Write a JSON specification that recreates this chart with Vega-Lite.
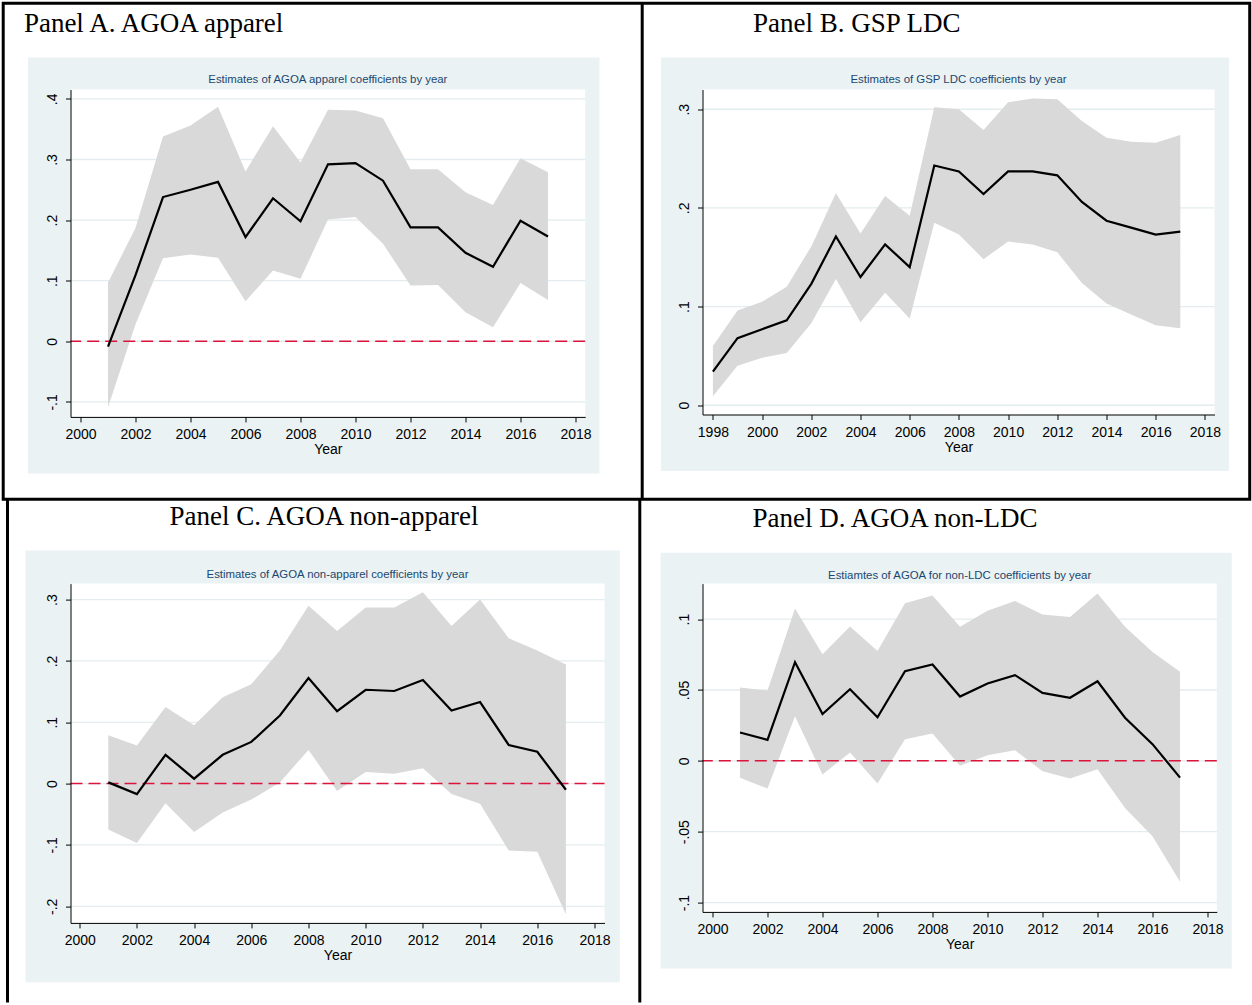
{
  "$schema": "https://vega.github.io/schema/vega-lite/v6.json",
  "background": "white",
  "padding": {"left": 1.5, "top": 1.5, "right": 0, "bottom": 0},
  "autosize": {"type": "pad"},
  "columns": 2,
  "align": "each",
  "bounds": "flush",
  "spacing": {"column": 98, "row": 166.1},
  "config": {
    "view": {"stroke": null},
    "axis": {"labelFont": "Liberation Sans", "labelFontSize": 14, "labelColor": "black", "titleFont": "Liberation Sans", "titleFontSize": 14, "titleFontWeight": "normal", "titleColor": "black", "domainColor": "black", "tickColor": "black", "tickSize": 5, "grid": false, "labelFlush": false, "labelOverlap": false, "labelPadding": 6},
    "axisX": {"titlePadding": 1},
    "axisY": {"labelAngle": -90}
  },
  "datasets": {
    "A": [
      {"year": 2001, "est": -0.009, "lo": -0.109, "hi": 0.097},
      {"year": 2002, "est": 0.109, "lo": 0.028, "hi": 0.187},
      {"year": 2003, "est": 0.238, "lo": 0.137, "hi": 0.338},
      {"year": 2004, "est": 0.250, "lo": 0.143, "hi": 0.356},
      {"year": 2005, "est": 0.263, "lo": 0.138, "hi": 0.387},
      {"year": 2006, "est": 0.172, "lo": 0.066, "hi": 0.280},
      {"year": 2007, "est": 0.236, "lo": 0.117, "hi": 0.355},
      {"year": 2008, "est": 0.198, "lo": 0.103, "hi": 0.295},
      {"year": 2009, "est": 0.292, "lo": 0.201, "hi": 0.382},
      {"year": 2010, "est": 0.294, "lo": 0.205, "hi": 0.381},
      {"year": 2011, "est": 0.265, "lo": 0.161, "hi": 0.368},
      {"year": 2012, "est": 0.188, "lo": 0.092, "hi": 0.284},
      {"year": 2013, "est": 0.188, "lo": 0.093, "hi": 0.284},
      {"year": 2014, "est": 0.146, "lo": 0.048, "hi": 0.246},
      {"year": 2015, "est": 0.123, "lo": 0.023, "hi": 0.225},
      {"year": 2016, "est": 0.199, "lo": 0.096, "hi": 0.302},
      {"year": 2017, "est": 0.173, "lo": 0.068, "hi": 0.279}
    ],
    "B": [
      {"year": 1998, "est": 0.034, "lo": 0.009, "hi": 0.060},
      {"year": 1999, "est": 0.068, "lo": 0.040, "hi": 0.096},
      {"year": 2000, "est": 0.077, "lo": 0.048, "hi": 0.105},
      {"year": 2001, "est": 0.086, "lo": 0.053, "hi": 0.120},
      {"year": 2002, "est": 0.123, "lo": 0.083, "hi": 0.161},
      {"year": 2003, "est": 0.171, "lo": 0.128, "hi": 0.215},
      {"year": 2004, "est": 0.130, "lo": 0.084, "hi": 0.174},
      {"year": 2005, "est": 0.163, "lo": 0.114, "hi": 0.212},
      {"year": 2006, "est": 0.140, "lo": 0.088, "hi": 0.192},
      {"year": 2007, "est": 0.243, "lo": 0.185, "hi": 0.302},
      {"year": 2008, "est": 0.237, "lo": 0.173, "hi": 0.300},
      {"year": 2009, "est": 0.214, "lo": 0.148, "hi": 0.279},
      {"year": 2010, "est": 0.237, "lo": 0.166, "hi": 0.307},
      {"year": 2011, "est": 0.237, "lo": 0.163, "hi": 0.311},
      {"year": 2012, "est": 0.233, "lo": 0.155, "hi": 0.310},
      {"year": 2013, "est": 0.206, "lo": 0.124, "hi": 0.288},
      {"year": 2014, "est": 0.187, "lo": 0.103, "hi": 0.271},
      {"year": 2015, "est": 0.180, "lo": 0.092, "hi": 0.267},
      {"year": 2016, "est": 0.173, "lo": 0.081, "hi": 0.266},
      {"year": 2017, "est": 0.176, "lo": 0.078, "hi": 0.274}
    ],
    "C": [
      {"year": 2001, "est": 0.002, "lo": -0.075, "hi": 0.079},
      {"year": 2002, "est": -0.017, "lo": -0.097, "hi": 0.062},
      {"year": 2003, "est": 0.047, "lo": -0.032, "hi": 0.125},
      {"year": 2004, "est": 0.008, "lo": -0.079, "hi": 0.095},
      {"year": 2005, "est": 0.047, "lo": -0.047, "hi": 0.141},
      {"year": 2006, "est": 0.068, "lo": -0.026, "hi": 0.162},
      {"year": 2007, "est": 0.111, "lo": 0.002, "hi": 0.217},
      {"year": 2008, "est": 0.172, "lo": 0.055, "hi": 0.290},
      {"year": 2009, "est": 0.118, "lo": -0.012, "hi": 0.249},
      {"year": 2010, "est": 0.153, "lo": 0.019, "hi": 0.287},
      {"year": 2011, "est": 0.151, "lo": 0.016, "hi": 0.287},
      {"year": 2012, "est": 0.169, "lo": 0.025, "hi": 0.312},
      {"year": 2013, "est": 0.119, "lo": -0.017, "hi": 0.257},
      {"year": 2014, "est": 0.133, "lo": -0.033, "hi": 0.300},
      {"year": 2015, "est": 0.063, "lo": -0.109, "hi": 0.237},
      {"year": 2016, "est": 0.052, "lo": -0.111, "hi": 0.217},
      {"year": 2017, "est": -0.010, "lo": -0.213, "hi": 0.194}
    ],
    "D": [
      {"year": 2001, "est": 0.0200, "lo": -0.0120, "hi": 0.0518},
      {"year": 2002, "est": 0.0148, "lo": -0.0195, "hi": 0.0496},
      {"year": 2003, "est": 0.0696, "lo": 0.0315, "hi": 0.1075},
      {"year": 2004, "est": 0.0330, "lo": -0.0096, "hi": 0.0753},
      {"year": 2005, "est": 0.0506, "lo": 0.0059, "hi": 0.0948},
      {"year": 2006, "est": 0.0308, "lo": -0.0160, "hi": 0.0776},
      {"year": 2007, "est": 0.0633, "lo": 0.0153, "hi": 0.1113},
      {"year": 2008, "est": 0.0680, "lo": 0.0193, "hi": 0.1167},
      {"year": 2009, "est": 0.0454, "lo": -0.0035, "hi": 0.0946},
      {"year": 2010, "est": 0.0546, "lo": 0.0040, "hi": 0.1059},
      {"year": 2011, "est": 0.0605, "lo": 0.0075, "hi": 0.1129},
      {"year": 2012, "est": 0.0480, "lo": -0.0073, "hi": 0.1033},
      {"year": 2013, "est": 0.0445, "lo": -0.0125, "hi": 0.1016},
      {"year": 2014, "est": 0.0562, "lo": -0.0059, "hi": 0.1181},
      {"year": 2015, "est": 0.0304, "lo": -0.0332, "hi": 0.0946},
      {"year": 2016, "est": 0.0118, "lo": -0.0532, "hi": 0.0769},
      {"year": 2017, "est": -0.0118, "lo": -0.0854, "hi": 0.0628}
    ],
    "gridA": [{"v": -0.1}, {"v": 0}, {"v": 0.1}, {"v": 0.2}, {"v": 0.3}, {"v": 0.4}],
    "gridB": [{"v": 0}, {"v": 0.1}, {"v": 0.2}, {"v": 0.3}],
    "gridC": [{"v": -0.2}, {"v": -0.1}, {"v": 0}, {"v": 0.1}, {"v": 0.2}, {"v": 0.3}],
    "gridD": [{"v": -0.1}, {"v": -0.05}, {"v": 0}, {"v": 0.05}, {"v": 0.1}]
  },
  "concat": [
    {
      "width": 514.7, "height": 327.4,
      "layer": [
        {"data": {"values": [{}]}, "mark": {"type": "rect", "clip": false, "color": "#eaf2f3"},
         "encoding": {"x": {"datum": 1998.087, "type": "quantitative"}, "x2": {"datum": 2018.873}, "y": {"datum": -0.2182, "type": "quantitative"}, "y2": {"datum": 0.4683}}},
        {"data": {"values": [{}]}, "mark": {"type": "rect", "clip": false, "color": "white"},
         "encoding": {"x": {"datum": 1999.636, "type": "quantitative"}, "x2": {"datum": 2018.353}, "y": {"datum": -0.1248, "type": "quantitative"}, "y2": {"datum": 0.4155}}},
        {"data": {"name": "gridA"}, "mark": {"type": "rule", "color": "#e3ecee", "strokeWidth": 1.3},
         "encoding": {"y": {"field": "v", "type": "quantitative"}}},
        {"data": {"name": "A"}, "mark": {"type": "area", "color": "#d9d9d9"},
         "encoding": {
           "x": {"field": "year", "type": "quantitative", "scale": {"domain": [1999.636, 2018.353], "nice": false, "zero": false},
                 "axis": {"zindex": 1, "title": "Year", "values": [2000, 2002, 2004, 2006, 2008, 2010, 2012, 2014, 2016, 2018], "format": "d"}},
           "y": {"field": "lo", "type": "quantitative", "scale": {"domain": [-0.1248, 0.4155], "nice": false, "zero": false},
                 "axis": {"zindex": 1, "title": null, "values": [-0.1, 0, 0.1, 0.2, 0.3, 0.4], "labelExpr": "replace(toString(datum.value), '0.', '.')"}},
           "y2": {"field": "hi"}}},
        {"data": {"values": [{}]}, "mark": {"type": "rule", "color": "#dc143c", "strokeWidth": 1.5, "strokeDash": [12, 6]},
         "encoding": {"y": {"datum": 0, "type": "quantitative"}}},
        {"data": {"name": "A"}, "mark": {"type": "line", "color": "black", "strokeWidth": 2.2},
         "encoding": {"x": {"field": "year", "type": "quantitative"}, "y": {"field": "est", "type": "quantitative"}}},
        {"data": {"values": [{}]}, "mark": {"type": "text", "clip": false, "font": "Liberation Sans", "fontSize": 11.4, "color": "#1a476f", "align": "center", "baseline": "middle", "text": "Estimates of AGOA apparel coefficients by year"},
         "encoding": {"x": {"datum": 2008.995, "type": "quantitative"}, "y": {"datum": 0.4304, "type": "quantitative"}}},
        {"data": {"values": [{}]}, "mark": {"type": "text", "clip": false, "font": "Liberation Serif", "fontSize": 27, "color": "black", "align": "left", "baseline": "alphabetic", "text": "Panel A. AGOA apparel"},
         "encoding": {"x": {"datum": 1997.941, "type": "quantitative"}, "y": {"datum": 0.5106, "type": "quantitative"}}},
        {"data": {"values": [{}]}, "mark": {"type": "rect", "clip": false, "fill": null, "fillOpacity": 0, "stroke": "black", "strokeWidth": 3},
         "encoding": {"x": {"datum": 1997.189, "type": "quantitative"}, "x2": {"datum": 2042.518}, "y": {"datum": -0.2606, "type": "quantitative"}, "y2": {"datum": 0.5579}}},
        {"data": {"values": [{}]}, "mark": {"type": "rule", "clip": false, "color": "black", "strokeWidth": 3},
         "encoding": {"x": {"datum": 2020.426, "type": "quantitative"}, "y": {"datum": -0.2606, "type": "quantitative"}, "y2": {"datum": 0.5579}}}
      ]
    },
    {
      "width": 512, "height": 325,
      "layer": [
        {"data": {"values": [{}]}, "mark": {"type": "rect", "clip": false, "color": "#eaf2f3"},
         "encoding": {"x": {"datum": 1995.886, "type": "quantitative"}, "x2": {"datum": 2018.975}, "y": {"datum": -0.0666, "type": "quantitative"}, "y2": {"datum": 0.3524}}},
        {"data": {"values": [{}]}, "mark": {"type": "rect", "clip": false, "color": "white"},
         "encoding": {"x": {"datum": 1997.577, "type": "quantitative"}, "x2": {"datum": 2018.39}, "y": {"datum": -0.0094, "type": "quantitative"}, "y2": {"datum": 0.32}}},
        {"data": {"name": "gridB"}, "mark": {"type": "rule", "color": "#e3ecee", "strokeWidth": 1.3},
         "encoding": {"y": {"field": "v", "type": "quantitative"}}},
        {"data": {"name": "B"}, "mark": {"type": "area", "color": "#d9d9d9"},
         "encoding": {
           "x": {"field": "year", "type": "quantitative", "scale": {"domain": [1997.577, 2018.39], "nice": false, "zero": false},
                 "axis": {"zindex": 1, "title": "Year", "values": [1998, 2000, 2002, 2004, 2006, 2008, 2010, 2012, 2014, 2016, 2018], "format": "d"}},
           "y": {"field": "lo", "type": "quantitative", "scale": {"domain": [-0.0094, 0.32], "nice": false, "zero": false},
                 "axis": {"zindex": 1, "title": null, "values": [0, 0.1, 0.2, 0.3], "labelExpr": "replace(toString(datum.value), '0.', '.')"}},
           "y2": {"field": "hi"}}},
        {"data": {"name": "B"}, "mark": {"type": "line", "color": "black", "strokeWidth": 2.2},
         "encoding": {"x": {"field": "year", "type": "quantitative"}, "y": {"field": "est", "type": "quantitative"}}},
        {"data": {"values": [{}]}, "mark": {"type": "text", "clip": false, "font": "Liberation Sans", "fontSize": 11.4, "color": "#1a476f", "align": "center", "baseline": "middle", "text": "Estimates of GSP LDC coefficients by year"},
         "encoding": {"x": {"datum": 2007.984, "type": "quantitative"}, "y": {"datum": 0.3294, "type": "quantitative"}}},
        {"data": {"values": [{}]}, "mark": {"type": "text", "clip": false, "font": "Liberation Serif", "fontSize": 27, "color": "black", "align": "left", "baseline": "alphabetic", "text": "Panel B. GSP LDC"},
         "encoding": {"x": {"datum": 1999.626, "type": "quantitative"}, "y": {"datum": 0.3784, "type": "quantitative"}}}
      ]
    },
    {
      "width": 534, "height": 339.3,
      "layer": [
        {"data": {"values": [{}]}, "mark": {"type": "rect", "clip": false, "color": "#eaf2f3"},
         "encoding": {"x": {"datum": 1998.105, "type": "quantitative"}, "x2": {"datum": 2018.885}, "y": {"datum": -0.324, "type": "quantitative"}, "y2": {"datum": 0.3799}}},
        {"data": {"values": [{}]}, "mark": {"type": "rect", "clip": false, "color": "white"},
         "encoding": {"x": {"datum": 1999.678, "type": "quantitative"}, "x2": {"datum": 2018.35}, "y": {"datum": -0.2271, "type": "quantitative"}, "y2": {"datum": 0.3261}}},
        {"data": {"name": "gridC"}, "mark": {"type": "rule", "color": "#e3ecee", "strokeWidth": 1.3},
         "encoding": {"y": {"field": "v", "type": "quantitative"}}},
        {"data": {"name": "C"}, "mark": {"type": "area", "color": "#d9d9d9"},
         "encoding": {
           "x": {"field": "year", "type": "quantitative", "scale": {"domain": [1999.678, 2018.35], "nice": false, "zero": false},
                 "axis": {"zindex": 1, "title": "Year", "values": [2000, 2002, 2004, 2006, 2008, 2010, 2012, 2014, 2016, 2018], "format": "d"}},
           "y": {"field": "lo", "type": "quantitative", "scale": {"domain": [-0.2271, 0.3261], "nice": false, "zero": false},
                 "axis": {"zindex": 1, "title": null, "values": [-0.2, -0.1, 0, 0.1, 0.2, 0.3], "labelExpr": "replace(toString(datum.value), '0.', '.')"}},
           "y2": {"field": "hi"}}},
        {"data": {"values": [{}]}, "mark": {"type": "rule", "color": "#dc143c", "strokeWidth": 1.5, "strokeDash": [12, 6]},
         "encoding": {"y": {"datum": 0, "type": "quantitative"}}},
        {"data": {"name": "C"}, "mark": {"type": "line", "color": "black", "strokeWidth": 2.2},
         "encoding": {"x": {"field": "year", "type": "quantitative"}, "y": {"field": "est", "type": "quantitative"}}},
        {"data": {"values": [{}]}, "mark": {"type": "text", "clip": false, "font": "Liberation Sans", "fontSize": 11.4, "color": "#1a476f", "align": "center", "baseline": "middle", "text": "Estimates of AGOA non-apparel coefficients by year"},
         "encoding": {"x": {"datum": 2009.014, "type": "quantitative"}, "y": {"datum": 0.3408, "type": "quantitative"}}},
        {"data": {"values": [{}]}, "mark": {"type": "text", "clip": false, "font": "Liberation Serif", "fontSize": 27, "color": "black", "align": "left", "baseline": "alphabetic", "text": "Panel C. AGOA non-apparel"},
         "encoding": {"x": {"datum": 2003.14, "type": "quantitative"}, "y": {"datum": 0.4223, "type": "quantitative"}}},
        {"data": {"values": [{}]}, "mark": {"type": "rule", "clip": false, "color": "black", "strokeWidth": 3},
         "encoding": {"x": {"datum": 1997.475, "type": "quantitative"}, "y": {"datum": -0.357, "type": "quantitative"}, "y2": {"datum": 0.4647}}},
        {"data": {"values": [{}]}, "mark": {"type": "rule", "clip": false, "color": "black", "strokeWidth": 3},
         "encoding": {"x": {"datum": 2019.584, "type": "quantitative"}, "y": {"datum": -0.357, "type": "quantitative"}, "y2": {"datum": 0.4647}}}
      ]
    },
    {
      "width": 514.3, "height": 328.3,
      "layer": [
        {"data": {"values": [{}]}, "mark": {"type": "rect", "clip": false, "color": "#eaf2f3"},
         "encoding": {"x": {"datum": 1998.109, "type": "quantitative"}, "x2": {"datum": 2018.883}, "y": {"datum": -0.1466, "type": "quantitative"}, "y2": {"datum": 0.1468}}},
        {"data": {"values": [{}]}, "mark": {"type": "rect", "clip": false, "color": "white"},
         "encoding": {"x": {"datum": 1999.636, "type": "quantitative"}, "x2": {"datum": 2018.338}, "y": {"datum": -0.1066, "type": "quantitative"}, "y2": {"datum": 0.1251}}},
        {"data": {"name": "gridD"}, "mark": {"type": "rule", "color": "#e3ecee", "strokeWidth": 1.3},
         "encoding": {"y": {"field": "v", "type": "quantitative"}}},
        {"data": {"name": "D"}, "mark": {"type": "area", "color": "#d9d9d9"},
         "encoding": {
           "x": {"field": "year", "type": "quantitative", "scale": {"domain": [1999.636, 2018.338], "nice": false, "zero": false},
                 "axis": {"zindex": 1, "title": "Year", "values": [2000, 2002, 2004, 2006, 2008, 2010, 2012, 2014, 2016, 2018], "format": "d"}},
           "y": {"field": "lo", "type": "quantitative", "scale": {"domain": [-0.1066, 0.1251], "nice": false, "zero": false},
                 "axis": {"zindex": 1, "title": null, "values": [-0.1, -0.05, 0, 0.05, 0.1], "labelExpr": "replace(toString(datum.value), '0.', '.')"}},
           "y2": {"field": "hi"}}},
        {"data": {"values": [{}]}, "mark": {"type": "rule", "color": "#dc143c", "strokeWidth": 1.5, "strokeDash": [12, 6]},
         "encoding": {"y": {"datum": 0, "type": "quantitative"}}},
        {"data": {"name": "D"}, "mark": {"type": "line", "color": "black", "strokeWidth": 2.2},
         "encoding": {"x": {"field": "year", "type": "quantitative"}, "y": {"field": "est", "type": "quantitative"}}},
        {"data": {"values": [{}]}, "mark": {"type": "text", "clip": false, "font": "Liberation Sans", "fontSize": 11.4, "color": "#1a476f", "align": "center", "baseline": "middle", "text": "Estiamtes of AGOA for non-LDC coefficients by year"},
         "encoding": {"x": {"datum": 2008.987, "type": "quantitative"}, "y": {"datum": 0.1305, "type": "quantitative"}}},
        {"data": {"values": [{}]}, "mark": {"type": "text", "clip": false, "font": "Liberation Serif", "fontSize": 27, "color": "black", "align": "left", "baseline": "alphabetic", "text": "Panel D. AGOA non-LDC"},
         "encoding": {"x": {"datum": 2001.454, "type": "quantitative"}, "y": {"datum": 0.1651, "type": "quantitative"}}}
      ]
    }
  ]
}
